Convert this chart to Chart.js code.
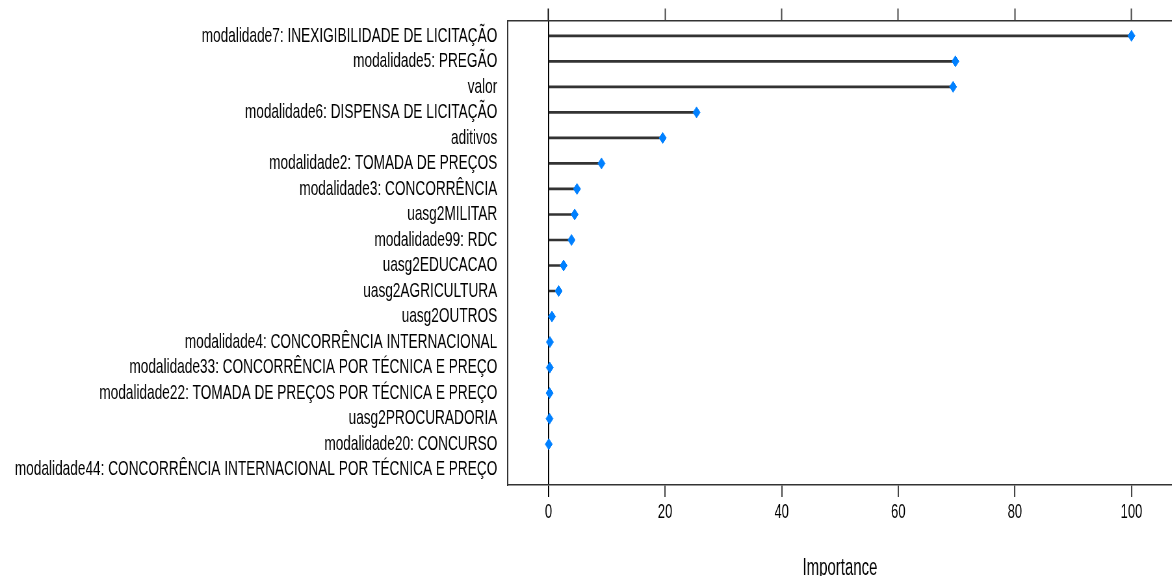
<!DOCTYPE html>
<html>
<head>
<meta charset="utf-8">
<script src="https://cdn.jsdelivr.net/npm/chart.js@4/dist/chart.umd.min.js"></script>
<style>
  html, body { margin: 0; padding: 0; background: #fff; overflow: hidden; width: 1172px; height: 576px; }
  /* the reference is squeezed horizontally, so draw wide and scale x */
  #wrap { width: 1810px; height: 582px; transform: scaleX(0.65); transform-origin: 0 0; }
</style>
</head>
<body>
<div id="wrap"><canvas id="myChart"></canvas></div>
<script>
// variaveis (de cima para baixo)
const labels = [
    "modalidade7: INEXIGIBILIDADE DE LICITAÇÃO",
    "modalidade5: PREGÃO",
    "valor",
    "modalidade6: DISPENSA DE LICITAÇÃO",
    "aditivos",
    "modalidade2: TOMADA DE PREÇOS",
    "modalidade3: CONCORRÊNCIA",
    "uasg2MILITAR",
    "modalidade99: RDC",
    "uasg2EDUCACAO",
    "uasg2AGRICULTURA",
    "uasg2OUTROS",
    "modalidade4: CONCORRÊNCIA INTERNACIONAL",
    "modalidade33: CONCORRÊNCIA POR TÉCNICA E PREÇO",
    "modalidade22: TOMADA DE PREÇOS POR TÉCNICA E PREÇO",
    "uasg2PROCURADORIA",
    "modalidade20: CONCURSO",
    "modalidade44: CONCORRÊNCIA INTERNACIONAL POR TÉCNICA E PREÇO"
];
const importance = [100, 69.8, 69.4, 25.4, 19.6, 9.1, 4.9, 4.5, 3.95, 2.6, 1.75, 0.6, 0.25, 0.22, 0.2, 0.18, 0.05, null];
const xTicks = [0, 20, 40, 60, 80, 100];
const axisTitle = "Importance";

const font = "'Liberation Sans', Arial, sans-serif";
const points = importance.map((v, i) => ({ x: v, y: i }));

new Chart(document.getElementById("myChart"), {
    type: "bar",
    data: {
        datasets: [
            {
                type: "bar",
                data: points,
                backgroundColor: "#333333",
                borderWidth: 0,
                barThickness: 2,
                xAxisID: "x",
                yAxisID: "y",
                order: 2
            },
            {
                type: "scatter",
                data: points,
                pointStyle: "rectRot",
                pointRadius: 5.5,
                backgroundColor: "#0080ff",
                borderColor: "#0080ff",
                borderWidth: 1,
                xAxisID: "x",
                yAxisID: "y",
                order: 1
            }
        ]
    },
    options: {
        indexAxis: "y",
        responsive: true,
        maintainAspectRatio: false,
        animation: false,
        layout: { padding: { left: 0, right: 2, top: 0, bottom: 0 } },
        plugins: { legend: { display: false }, tooltip: { enabled: false } },
        scales: {
            x: {
                type: "linear",
                position: "bottom",
                min: -7,
                max: 107,
                afterBuildTicks: s => { s.ticks = xTicks.map(v => ({ value: v })); },
                afterFit: s => { s.height = 97; s.paddingLeft = 0; s.paddingRight = 0; },
                grid: {
                    drawOnChartArea: true,
                    color: c => c.tick && c.tick.value === 0 ? "#000" : "transparent",
                    lineWidth: 2,
                    tickLength: 12,
                    tickColor: c => c.tick && c.tick.value === 0 ? "#000" : "#444",
                    tickWidth: 2
                },
                border: { display: true, color: "#333", width: 1.5 },
                ticks: { color: "#000", font: { family: font, size: 20 }, padding: 3 },
                title: { display: true, text: axisTitle, color: "#000", font: { family: font, size: 23 }, padding: { top: 0, bottom: 0 } }
            },
            x2: {
                type: "linear",
                position: "top",
                min: -7,
                max: 107,
                afterBuildTicks: s => { s.ticks = xTicks.map(v => ({ value: v })); },
                afterFit: s => { s.height = 20.5; s.paddingLeft = 0; s.paddingRight = 0; },
                grid: {
                    drawOnChartArea: false,
                    tickLength: 12,
                    tickColor: c => c.tick && c.tick.value === 0 ? "#000" : "#444",
                    tickWidth: 2
                },
                border: { display: true, color: "#333", width: 1.5 },
                ticks: { display: false }
            },
            y: {
                type: "linear",
                reverse: true,
                offset: false,
                min: -0.6,
                max: 17.6,
                afterBuildTicks: s => { s.ticks = labels.map((l, i) => ({ value: i })); },
                afterFit: s => { s.width = 781; s.paddingTop = 0; s.paddingBottom = 0; },
                grid: { display: false, drawTicks: false, offset: false },
                border: { display: true, color: "#333", width: 2 },
                ticks: {
                    color: "#000",
                    font: { family: font, size: 21 },
                    padding: 16,
                    autoSkip: false,
                    callback: v => labels[v]
                }
            }
        }
    }
});
</script>
</body>
</html>
